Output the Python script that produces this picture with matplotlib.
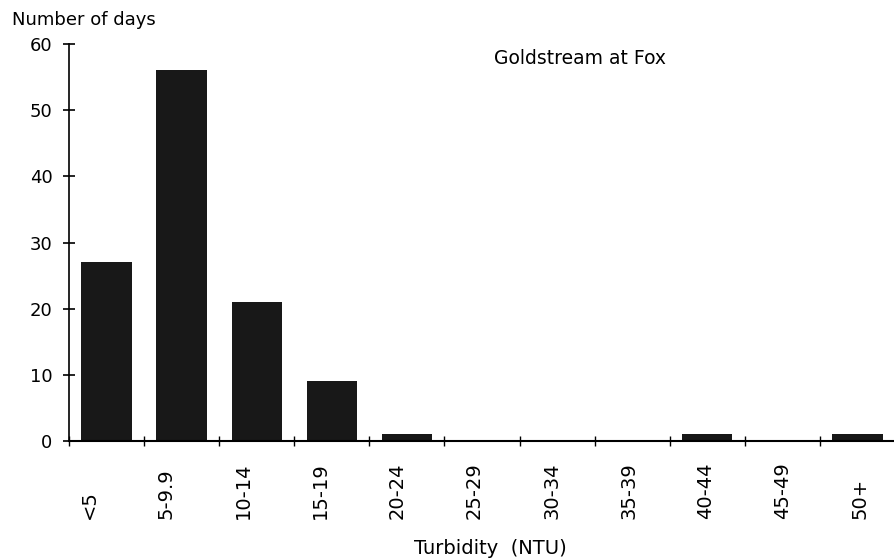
import numpy as np
import matplotlib
matplotlib.use('Agg')
import matplotlib.pyplot as plt

# Days per turbidity class
categories = ['<5', '5-9.9', '10-14', '15-19', '20-24', '25-29',
              '30-34', '35-39', '40-44', '45-49', '50+']
days = [27, 56, 21, 9, 1, 0, 0, 0, 1, 0, 1]
y_ticks = [0, 10, 20, 30, 40, 50, 60]

plt.rcParams['font.family'] = ['DejaVu Sans']

fig = plt.figure(figsize=(8.95, 5.6), dpi=100)
ax = fig.add_axes([69 / 895, 119 / 560, 826 / 895, 397 / 560])

x = np.arange(len(categories))
ax.bar(x + 0.5, days, width=0.67, color='#181818')

ax.set_xlim(0, len(categories))
ax.set_ylim(0, 60)

# class boundaries as ticks, no tick labels
ax.set_xticks(np.arange(len(categories) + 1))
ax.set_xticklabels([])
ax.tick_params(axis='x', direction='inout', length=7, width=1)

# rotated class labels, bottom aligned (the scan drifts a little to the right)
for i, lab in enumerate(categories):
    ax.text(i + 0.27 + 0.026 * i, -0.196, lab, rotation=90, fontsize=14,
            ha='center', va='bottom', transform=ax.get_xaxis_transform())

ax.set_yticks(y_ticks)
ax.set_yticklabels([str(v) for v in y_ticks], fontsize=13)
ax.tick_params(axis='y', direction='inout', length=8, width=1.2, pad=8)

for side in ['top', 'right']:
    ax.spines[side].set_visible(False)
ax.spines['left'].set_linewidth(1.2)
ax.spines['bottom'].set_linewidth(1.5)

fig.text(12 / 895, 1 - 20 / 560, 'Number of days', fontsize=13, va='center', ha='left')
fig.text(580 / 895, 1 - 58 / 560, 'Goldstream at Fox', fontsize=13.5, va='center', ha='center')
fig.text(490 / 895, 1 - 548 / 560, 'Turbidity  (NTU)', fontsize=14, va='center', ha='center')

plt.savefig('out.png', dpi=100)
